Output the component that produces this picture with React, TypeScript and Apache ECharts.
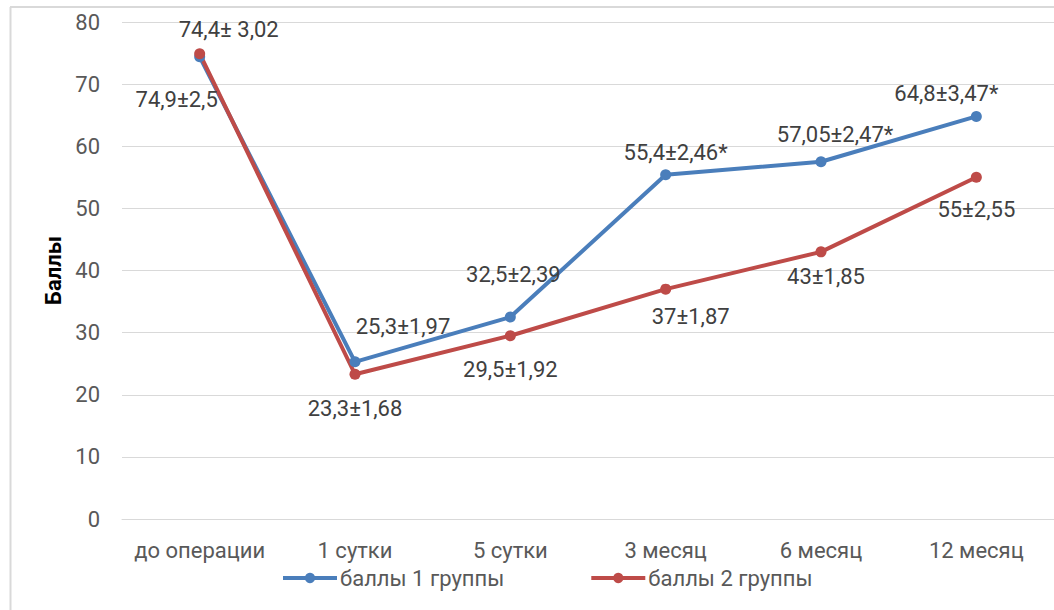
import React, { useEffect, useRef } from "react";
import * as echarts from "echarts";

const categories = ["до операции", "1 сутки", "5 сутки", "3 месяц", "6 месяц", "12 месяц"];
const group1Name = "баллы 1 группы";
const group2Name = "баллы 2 группы";
const group1Values = [74.4, 25.3, 32.5, 55.4, 57.5, 64.8];
const group2Values = [74.9, 23.3, 29.5, 37, 43, 55];
const group1Labels = ["74,4± 3,02", "25,3±1,97", "32,5±2,39", "55,4±2,46*", "57,05±2,47*", "64,8±3,47*"];
const group2Labels = ["74,9±2,5", "23,3±1,68", "29,5±1,92", "37±1,87", "43±1,85", "55±2,55"];
const yTicks = [0, 10, 20, 30, 40, 50, 60, 70, 80];

// label placement (pixel offsets from each marker)
const group1LabelOffsets = [[29, -27], [48, -35], [3, -43], [10, -22], [14, -27], [-30, -23]];
const group2LabelOffsets = [[-23, 46], [0, 34], [0, 34], [25, 27], [5, 25], [0, 32]];

const FONT = "Roboto";
const BLUE = "#4A7EBB";
const RED = "#BE4B48";

export default function App() {
  const ref = useRef<HTMLDivElement>(null);
  useEffect(() => {
    if (!ref.current) return;
    const chart = echarts.init(ref.current, null, { renderer: "svg" });
    const mkSeries = (name: string, values: number[], labels: string[], offsets: number[][], color: string) => ({
      name,
      type: "line",
      data: values.map((v, i) => ({ value: v, label: { offset: offsets[i] } })),
      symbol: "circle",
      symbolSize: 11,
      itemStyle: { color },
      lineStyle: { color, width: 4 },
      label: {
        show: true,
        position: "inside",
        align: "center",
        verticalAlign: "middle",
        color: "#404040",
        fontFamily: FONT,
        fontSize: 22,
        formatter: (p: any) => labels[p.dataIndex],
      },
    });
    chart.setOption({
      animation: false,
      textStyle: { fontFamily: FONT },
      grid: { left: 122, right: -4, top: 22, bottom: 91 },
      xAxis: {
        type: "category",
        data: categories,
        boundaryGap: true,
        axisLine: { lineStyle: { color: "#d9d9d9", width: 1 } },
        axisTick: { show: false },
        axisLabel: { color: "#595959", fontSize: 22, lineHeight: 20, fontFamily: FONT, margin: 21, interval: 0 },
      },
      yAxis: {
        type: "value",
        min: yTicks[0],
        max: yTicks[yTicks.length - 1],
        interval: yTicks[1] - yTicks[0],
        name: "Баллы",
        nameLocation: "middle",
        nameGap: 58,
        nameTextStyle: { color: "#000", fontWeight: "bold", fontSize: 22, fontFamily: FONT },
        axisLine: { show: false },
        axisTick: { show: false },
        splitLine: { lineStyle: { color: "#d9d9d9", width: 1 } },
        axisLabel: { color: "#595959", fontSize: 22, fontFamily: FONT, margin: 22 },
      },
      legend: {
        left: 276,
        top: 562,
        itemWidth: 54,
        itemHeight: 13,
        itemGap: 85,
        lineStyle: { width: 4 },
        textStyle: { color: "#595959", fontSize: 22, lineHeight: 20, fontFamily: FONT, padding: [0, 0, 0, -2] },
        data: [group1Name, group2Name],
      },
      graphic: [
        { type: "line", shape: { x1: 10.5, y1: 7, x2: 10.5, y2: 610 }, style: { stroke: "#d9d9d9", lineWidth: 2 } },
        { type: "line", shape: { x1: 10, y1: 7, x2: 1054, y2: 7 }, style: { stroke: "#d9d9d9", lineWidth: 2 } },
      ],
      series: [
        mkSeries(group1Name, group1Values, group1Labels, group1LabelOffsets, BLUE),
        mkSeries(group2Name, group2Values, group2Labels, group2LabelOffsets, RED),
      ],
    });
    return () => chart.dispose();
  }, []);
  return <div ref={ref} style={{ position: "absolute", left: 0, top: 0, width: 1054, height: 610 }} />;
}
